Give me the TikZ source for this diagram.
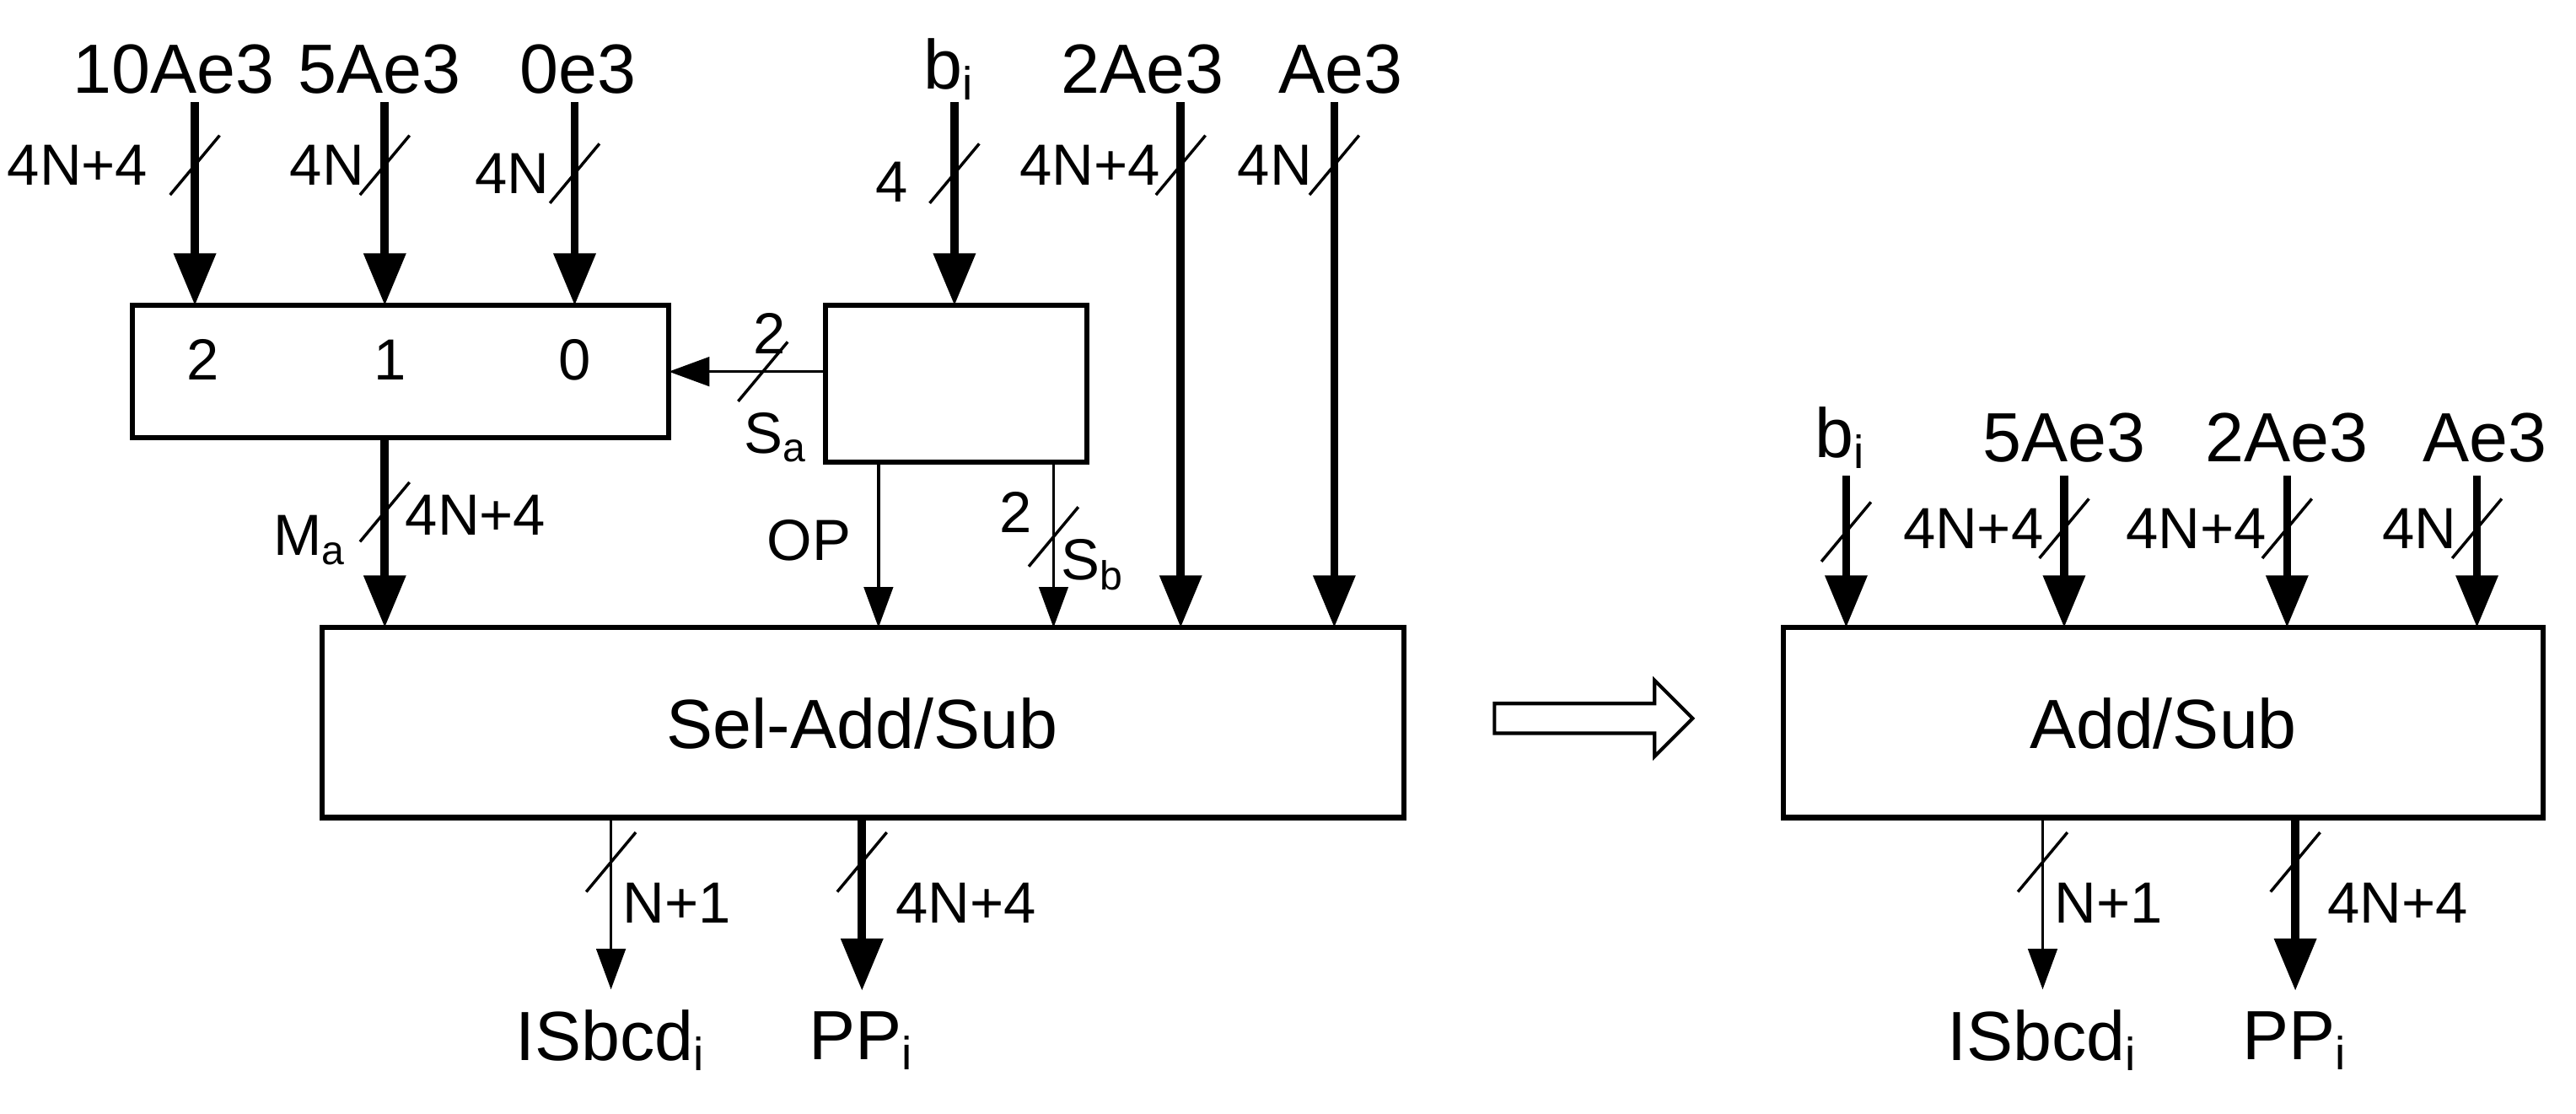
\documentclass[tikz,border=0pt]{standalone}
\usepackage{fontspec}
\setmainfont{Liberation Sans}
\usetikzlibrary{arrows.meta}
\begin{document}
\begin{tikzpicture}[x=1cm,y=-1cm,
  box/.style={draw,line width=0.9pt,inner sep=0},
  big/.style={font=\fontsize{12}{14}\selectfont},
  lab/.style={font=\fontsize{10}{12}\selectfont,inner sep=1pt},
  sm/.style={font=\fontsize{10}{12}\selectfont,inner sep=1pt},
  bus/.style={line width=1.4pt,-{Triangle[length=9pt,width=7pt]}},
  wire/.style={line width=0.5pt,-{Triangle[length=7pt,width=5pt]}},
  slash/.style={line width=0.5pt}]
\useasboundingbox (0,0) rectangle (15.6,6.745);
\newcommand\slsh[1]{\draw[slash] (#1) ++(-0.15,0.18) -- ++(0.3,-0.36);}
% boxes
\draw[box] (0.80,1.85) rectangle (4.05,2.65);
\node[sm] at (1.23,2.18) {2};
\node[sm] at (2.36,2.18) {1};
\node[sm] at (3.48,2.18) {0};
\draw[box] (5.00,1.85) rectangle (6.58,2.80);
\draw[box] (1.95,3.80) rectangle (8.50,4.95);
\node[big] (sel) at (5.22,4.38) {Sel-Add/Sub};
\draw[box] (10.80,3.80) rectangle (15.40,4.95);
\node[big] (as) at (13.10,4.38) {Add/Sub};
% top inputs left
\node[big] (i10) at (1.05,0.42) {10Ae3};
\node[big] (i5) at (2.30,0.42) {5Ae3};
\node[big] (i0) at (3.50,0.42) {0e3};
\node[big] (ib) at (5.75,0.42) {b\textsubscript{i}};
\node[big] (i2) at (6.92,0.42) {2Ae3};
\node[big] (i1) at (8.12,0.42) {Ae3};
\coordinate (m2) at (1.18,1.85); \coordinate (m1) at (2.33,1.85); \coordinate (m0) at (3.48,1.85);
\coordinate (cb) at (5.78,1.85);
\coordinate (s2) at (7.15,3.80); \coordinate (s1) at (8.08,3.80);
\draw[bus] (1.18,0.62) -- (m2); \slsh{1.18,1.00}
\draw[bus] (2.33,0.62) -- (m1); \slsh{2.33,1.00}
\draw[bus] (3.48,0.62) -- (m0); \slsh{3.48,1.05}
\draw[bus] (5.78,0.62) -- (cb); \slsh{5.78,1.05}
\draw[bus] (7.15,0.62) -- (s2); \slsh{7.15,1.00}
\draw[bus] (8.08,0.62) -- (s1); \slsh{8.08,1.00}
\node[lab] at (0.47,1.00) {4N+4};
\node[lab] at (1.98,1.00) {4N};
\node[lab] at (3.10,1.05) {4N};
\node[lab] at (5.40,1.10) {4};
\node[lab] at (6.60,1.00) {4N+4};
\node[lab] at (7.72,1.00) {4N};
% Sa
\coordinate (ca) at (5.00,2.25); \coordinate (ma) at (4.05,2.25);
\draw[wire] (ca) -- (ma); \slsh{4.62,2.25}
\node[lab] at (4.66,2.02) {2};
\node[lab] at (4.70,2.65) {S\textsubscript{a}};
% Ma
\draw[bus] (2.33,2.65) -- (2.33,3.80); \slsh{2.33,3.10}
\node[lab] at (1.88,3.27) {M\textsubscript{a}};
\node[lab] at (2.88,3.12) {4N+4};
% OP, Sb
\draw[wire] (5.32,2.80) -- (5.32,3.80);
\node[lab] at (4.90,3.27) {OP};
\draw[wire] (6.38,2.80) -- (6.38,3.80); \slsh{6.38,3.25}
\node[lab] at (6.15,3.10) {2};
\node[lab] at (6.62,3.42) {S\textsubscript{b}};
% outputs left
\node[big] (o1) at (3.70,6.30) {ISbcd\textsubscript{i}};
\node[big] (o2) at (5.22,6.30) {PP\textsubscript{i}};
\draw[wire] (3.70,4.95) -- (o1.north); \slsh{3.70,5.22}
\draw[bus] (5.22,4.95) -- (o2.north); \slsh{5.22,5.22}
\node[lab] at (4.10,5.47) {N+1};
\node[lab] at (5.85,5.47) {4N+4};
% hollow arrow
\draw[line width=0.6pt] (9.05,4.26) -- (10.02,4.26) -- (10.02,4.12) -- (10.25,4.35) -- (10.02,4.58) -- (10.02,4.44) -- (9.05,4.44) -- cycle;
% right inputs
\node[big] (r1) at (11.15,2.65) {b\textsubscript{i}};
\node[big] (r2) at (12.50,2.65) {5Ae3};
\node[big] (r3) at (13.85,2.65) {2Ae3};
\node[big] (r4) at (15.05,2.65) {Ae3};
\draw[bus] (11.18,2.88) -- (11.18,3.80); \slsh{11.18,3.22}
\draw[bus] (12.50,2.88) -- (12.50,3.80); \slsh{12.50,3.20}
\draw[bus] (13.85,2.88) -- (13.85,3.80); \slsh{13.85,3.20}
\draw[bus] (15.00,2.88) -- (15.00,3.80); \slsh{15.00,3.20}
\node[lab] at (11.95,3.20) {4N+4};
\node[lab] at (13.30,3.20) {4N+4};
\node[lab] at (14.65,3.20) {4N};
% right outputs
\node[big] (p1) at (12.37,6.30) {ISbcd\textsubscript{i}};
\node[big] (p2) at (13.90,6.30) {PP\textsubscript{i}};
\draw[wire] (12.37,4.95) -- (p1.north); \slsh{12.37,5.22}
\draw[bus] (13.90,4.95) -- (p2.north); \slsh{13.90,5.22}
\node[lab] at (12.77,5.47) {N+1};
\node[lab] at (14.52,5.47) {4N+4};
\end{tikzpicture}
\end{document}
